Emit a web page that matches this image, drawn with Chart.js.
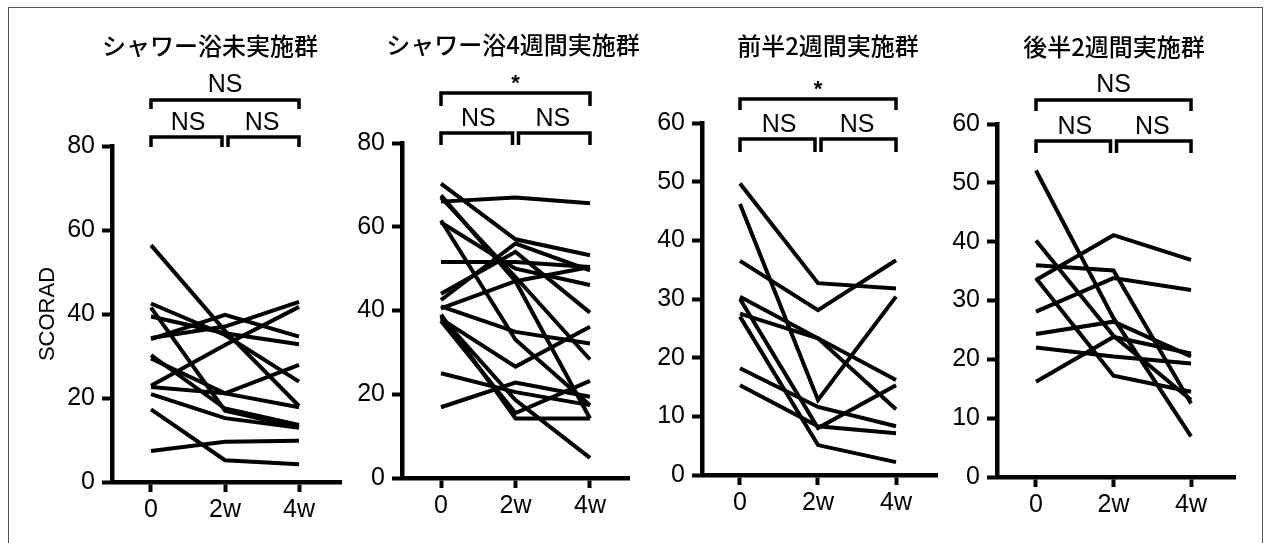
<!DOCTYPE html>
<html lang="ja">
<head>
<meta charset="utf-8">
<title>SCORAD</title>
<script src="https://cdn.jsdelivr.net/npm/chart.js@4.4.1/dist/chart.umd.min.js"></script>
<style>
    body { margin: 0; background: #fff; }
    #lienzo { position: relative; width: 1265px; height: 543px; overflow: hidden; }
    #marco { position: absolute; left: 8px; top: 7px; width: 1255px; height: 580px; border: 1px solid #555; box-sizing: border-box; }
    canvas { position: absolute; top: 0; }
</style>
</head>
<body>
<div id="lienzo">
    <div id="marco"></div>
    <canvas id="grafico0"></canvas>
    <canvas id="grafico1"></canvas>
    <canvas id="grafico2"></canvas>
    <canvas id="grafico3"></canvas>
</div>
<script>
// Semanas de medición y sus etiquetas
const semanas = [0, 2, 4];
const etiquetasSemana = ['0', '2w', '4w'];

// Títulos de cada grupo
const titulos = ['シャワー浴未実施群', 'シャワー浴4週間実施群', '前半2週間実施群', '後半2週間実施群'];

// Significancia: [0→4w, 0→2w, 2w→4w]
const significancia = [
    ['NS', 'NS', 'NS'],
    ['*', 'NS', 'NS'],
    ['*', 'NS', 'NS'],
    ['NS', 'NS', 'NS']
];

// Máximo y paso del eje Y de cada grupo
const maximosY = [80, 80, 60, 60];
const pasosY = [20, 20, 10, 10];

// SCORAD de cada paciente: [0, 2w, 4w]
const sinDucha = [
    [7.4, 9.6, 9.8],
    [17.3, 5.2, 4.2],
    [20.9, 15.2, 12.9],
    [22.6, 21.1, 17.8],
    [22.9, 32.6, 41.7],
    [30.2, 17.5, 13.6],
    [29.4, 21.1, 27.9],
    [34.3, 37.0, 42.9],
    [34.0, 39.8, 34.6],
    [39.4, 35.4, 32.8],
    [42.5, 35.0, 23.9],
    [41.5, 17.0, 13.0],
    [56.4, 36.0, 18.1]
];
const ducha4Semanas = [
    [66.0, 67.0, 65.6],
    [70.3, 57.0, 53.2],
    [67.0, 48.0, 28.3],
    [61.0, 50.0, 46.1],
    [61.5, 33.0, 17.4],
    [51.6, 51.6, 50.4],
    [44.0, 54.0, 39.5],
    [42.5, 56.0, 49.6],
    [40.5, 47.0, 50.4],
    [41.0, 34.9, 32.1],
    [38.0, 26.6, 36.1],
    [37.5, 15.5, 23.2],
    [38.5, 18.6, 4.8],
    [25.0, 20.5, 17.4],
    [16.9, 22.8, 19.4],
    [39.0, 14.2, 14.2],
    [67.5, 47.0, 14.2]
];
const primeras2Semanas = [
    [49.7, 32.7, 31.8],
    [36.5, 28.1, 36.6],
    [46.2, 12.8, 30.4],
    [30.4, 23.3, 11.2],
    [27.5, 23.3, 16.2],
    [30.0, 8.0, 15.3],
    [27.0, 5.1, 2.2],
    [18.2, 11.6, 8.3],
    [15.3, 8.3, 7.1]
];
const ultimas2Semanas = [
    [33.5, 41.1, 36.9],
    [28.1, 33.8, 31.8],
    [36.0, 35.1, 12.5],
    [52.1, 27.0, 6.9],
    [40.2, 24.0, 13.1],
    [33.8, 17.2, 14.5],
    [24.3, 26.4, 20.5],
    [22.0, 20.5, 19.3],
    [16.2, 23.8, 21.0]
];
const grupos = [sinDucha, ducha4Semanas, primeras2Semanas, ultimas2Semanas];

// Posición de cada panel en la página (px)
const paneles = [
    { izq: 31, anchoY: 81, der: 341, arriba: 146, abajo: 482, minX: -1.054, maxX: 5.135,
      tituloX: 210, tituloY: 46, texto1: 85, corchete1: 100, pata1: 109, texto2: 123, corchete2: 137, pata2: 147 },
    { izq: 342, anchoY: 60, der: 629, arriba: 143, abajo: 478, minX: -1.047, maxX: 5.047,
      tituloX: 513, tituloY: 45, texto1: 79, corchete1: 93, pata1: 106, texto2: 119, corchete2: 133, pata2: 145 },
    { izq: 642, anchoY: 60, der: 937, arriba: 123, abajo: 475, minX: -0.974, maxX: 5.051,
      tituloX: 828, tituloY: 46, texto1: 85, corchete1: 99, pata1: 110, texto2: 125, corchete2: 139, pata2: 152 },
    { izq: 937, anchoY: 60, der: 1235, arriba: 124, abajo: 477, minX: -1.006, maxX: 5.135,
      tituloX: 1114, tituloY: 47, texto1: 85, corchete1: 100, pata1: 111, texto2: 127, corchete2: 141, pata2: 153 }
];

const fuenteLatina = '"Liberation Sans", Arial, sans-serif';
const fuenteJaponesa = '"Noto Sans CJK JP", sans-serif';
const alturaEjeX = 50;
const margenDerecho = 30;

// Función para dibujar un corchete
function dibujarCorchete(ctx, xa, xb, y, yPata) {
    ctx.beginPath();
    ctx.moveTo(xa, yPata);
    ctx.lineTo(xa, y);
    ctx.lineTo(xb, y);
    ctx.lineTo(xb, yPata);
    ctx.stroke();
}

// Función para escribir NS o *
function escribirMarca(ctx, texto, x, y) {
    if (texto === '*') {
        ctx.font = 'bold 22px ' + fuenteLatina;
        ctx.fillText(texto, x, y + 5);
    } else {
        ctx.font = '25px ' + fuenteLatina;
        ctx.fillText(texto, x, y);
    }
}

// Plugin para títulos y corchetes de significancia
const anotaciones = {
    id: 'anotaciones',
    afterDraw(chart) {
        const i = chart.options.plugins.anotaciones.indice;
        const p = paneles[i];
        const ctx = chart.ctx;
        const ejeX = chart.scales.x;
        const x0 = ejeX.getPixelForValue(semanas[0]);
        const x1 = ejeX.getPixelForValue(semanas[1]);
        const x2 = ejeX.getPixelForValue(semanas[2]);

        ctx.save();
        ctx.fillStyle = '#000';
        ctx.strokeStyle = '#000';
        ctx.textAlign = 'center';
        ctx.textBaseline = 'middle';

        ctx.font = '500 24px ' + fuenteJaponesa;
        ctx.fillText(titulos[i], p.tituloX - p.izq, p.tituloY);

        ctx.lineWidth = 3.5;
        dibujarCorchete(ctx, x0, x2, p.corchete1, p.pata1);
        dibujarCorchete(ctx, x0, x1 - 3, p.corchete2, p.pata2);
        dibujarCorchete(ctx, x1 + 3, x2, p.corchete2, p.pata2);

        escribirMarca(ctx, significancia[i][0], (x0 + x2) / 2, p.texto1);
        escribirMarca(ctx, significancia[i][1], (x0 + x1) / 2, p.texto2);
        escribirMarca(ctx, significancia[i][2], (x1 + x2) / 2, p.texto2);
        ctx.restore();
    }
};

// Función para crear el gráfico de un grupo
function crearGrafico(i) {
    const p = paneles[i];
    const lienzo = document.getElementById('grafico' + i);
    lienzo.width = p.der + margenDerecho - p.izq;
    lienzo.height = 543;
    lienzo.style.left = p.izq + 'px';

    const datasets = grupos[i].map(serie => ({
        data: serie.map((v, k) => ({ x: semanas[k], y: v })),
        borderColor: '#000',
        borderWidth: 4,
        pointRadius: 0,
        tension: 0,
        fill: false
    }));

    const marcas = { drawOnChartArea: false, tickLength: 10, tickWidth: 4, tickColor: '#000', color: '#000' };
    const borde = { width: 4.5, color: '#000' };

    new Chart(lienzo, {
        type: 'line',
        data: { datasets: datasets },
        plugins: [anotaciones],
        options: {
            responsive: false,
            animation: false,
            layout: { padding: { top: p.arriba, bottom: 543 - p.abajo - alturaEjeX, left: 0, right: margenDerecho } },
            plugins: {
                legend: { display: false },
                tooltip: { enabled: false },
                anotaciones: { indice: i }
            },
            scales: {
                x: {
                    type: 'linear',
                    min: p.minX,
                    max: p.maxX,
                    afterBuildTicks: eje => { eje.ticks = semanas.map(v => ({ value: v })); },
                    afterFit: eje => { eje.height = alturaEjeX; },
                    ticks: {
                        callback: v => etiquetasSemana[semanas.indexOf(v)],
                        font: { family: fuenteLatina, size: 25 },
                        color: '#000',
                        padding: 3,
                        autoSkip: false,
                        maxRotation: 0
                    },
                    grid: marcas,
                    border: borde
                },
                y: {
                    min: 0,
                    max: maximosY[i],
                    afterFit: eje => { eje.width = p.anchoY; },
                    ticks: {
                        stepSize: pasosY[i],
                        font: { family: fuenteLatina, size: 25 },
                        color: '#000',
                        padding: 7
                    },
                    grid: marcas,
                    border: borde,
                    title: {
                        display: i === 0,
                        text: 'SCORAD',
                        font: { family: fuenteLatina, size: 22 },
                        color: '#000'
                    }
                }
            }
        }
    });
}

[0, 1, 2, 3].forEach(crearGrafico);
</script>
</body>
</html>
